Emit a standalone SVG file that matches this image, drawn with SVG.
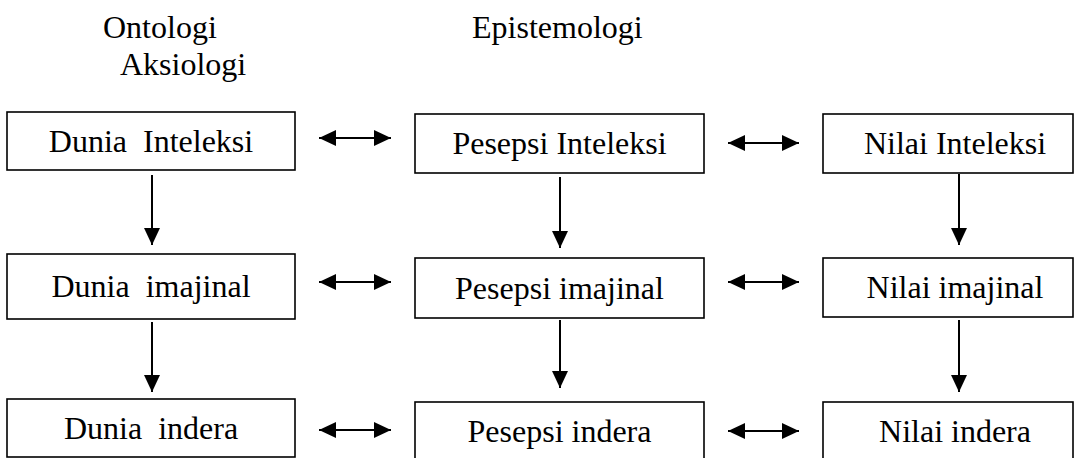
<svg xmlns="http://www.w3.org/2000/svg" width="1077" height="458" viewBox="0 0 1077 458">
<style>
.box{fill:#fff;stroke:#000;stroke-width:1.6}
.t{font-size:32px;fill:#000;text-anchor:middle;white-space:pre}
.h{font-size:32px;fill:#000}
.c{stroke:#000;stroke-width:2;fill:none}
.d{marker-end:url(#ah)}
.b{marker-start:url(#ahs);marker-end:url(#ah)}
</style>
<defs>
<marker id="ah" markerUnits="userSpaceOnUse" markerWidth="20" markerHeight="20" refX="17" refY="8" orient="auto">
<path d="M0,0 L17,8 L0,16 Z" fill="#000"/>
</marker>
<marker id="ahs" markerUnits="userSpaceOnUse" markerWidth="20" markerHeight="20" refX="0" refY="8" orient="auto">
<path d="M17,0 L0,8 L17,16 Z" fill="#000"/>
</marker>
</defs>
<g font-family="Times New Roman, Liberation Serif, serif">
<g id="headers">
<text class="h" x="103" y="38">Ontologi</text>
<text class="h" x="120" y="75">Aksiologi</text>
<text class="h" x="472" y="38">Epistemologi</text>
</g>
<g id="dunia-inteleksi"><rect class="box" x="7" y="112" width="288" height="58"/><text class="t" x="151" y="152">Dunia  Inteleksi</text></g>
<g id="pesepsi-inteleksi"><rect class="box" x="415" y="114" width="289" height="59"/><text class="t" x="559.5" y="154">Pesepsi Inteleksi</text></g>
<g id="nilai-inteleksi"><rect class="box" x="823" y="114" width="250" height="59"/><text class="t" x="955" y="154">Nilai Inteleksi</text></g>
<g id="dunia-imajinal"><rect class="box" x="7" y="254" width="288" height="65"/><text class="t" x="151" y="297">Dunia  imajinal</text></g>
<g id="pesepsi-imajinal"><rect class="box" x="415" y="258" width="289" height="60"/><text class="t" x="559.5" y="299">Pesepsi imajinal</text></g>
<g id="nilai-imajinal"><rect class="box" x="823" y="258" width="250" height="59"/><text class="t" x="955" y="298">Nilai imajinal</text></g>
<g id="dunia-indera"><rect class="box" x="7" y="399" width="288" height="58"/><text class="t" x="151" y="439">Dunia  indera</text></g>
<g id="pesepsi-indera"><rect class="box" x="415" y="402" width="289" height="60"/><text class="t" x="559.5" y="442">Pesepsi indera</text></g>
<g id="nilai-indera"><rect class="box" x="823" y="402" width="250" height="60"/><text class="t" x="955" y="442">Nilai indera</text></g>
</g>
<g id="connectors">
<line class="c b" x1="319" y1="138" x2="391" y2="138"/>
<line class="c b" x1="728" y1="143" x2="799" y2="143"/>
<line class="c b" x1="319" y1="282" x2="391" y2="282"/>
<line class="c b" x1="728" y1="282" x2="799" y2="282"/>
<line class="c b" x1="319" y1="430" x2="391" y2="430"/>
<line class="c b" x1="728" y1="431" x2="799" y2="431"/>
<line class="c d" x1="152" y1="175" x2="152" y2="245"/>
<line class="c d" x1="152" y1="322" x2="152" y2="392"/>
<line class="c d" x1="560" y1="177" x2="560" y2="248"/>
<line class="c d" x1="560" y1="320" x2="560" y2="388"/>
<line class="c d" x1="959" y1="174" x2="959" y2="245"/>
<line class="c d" x1="959" y1="320" x2="959" y2="392"/>
</g>
</svg>
